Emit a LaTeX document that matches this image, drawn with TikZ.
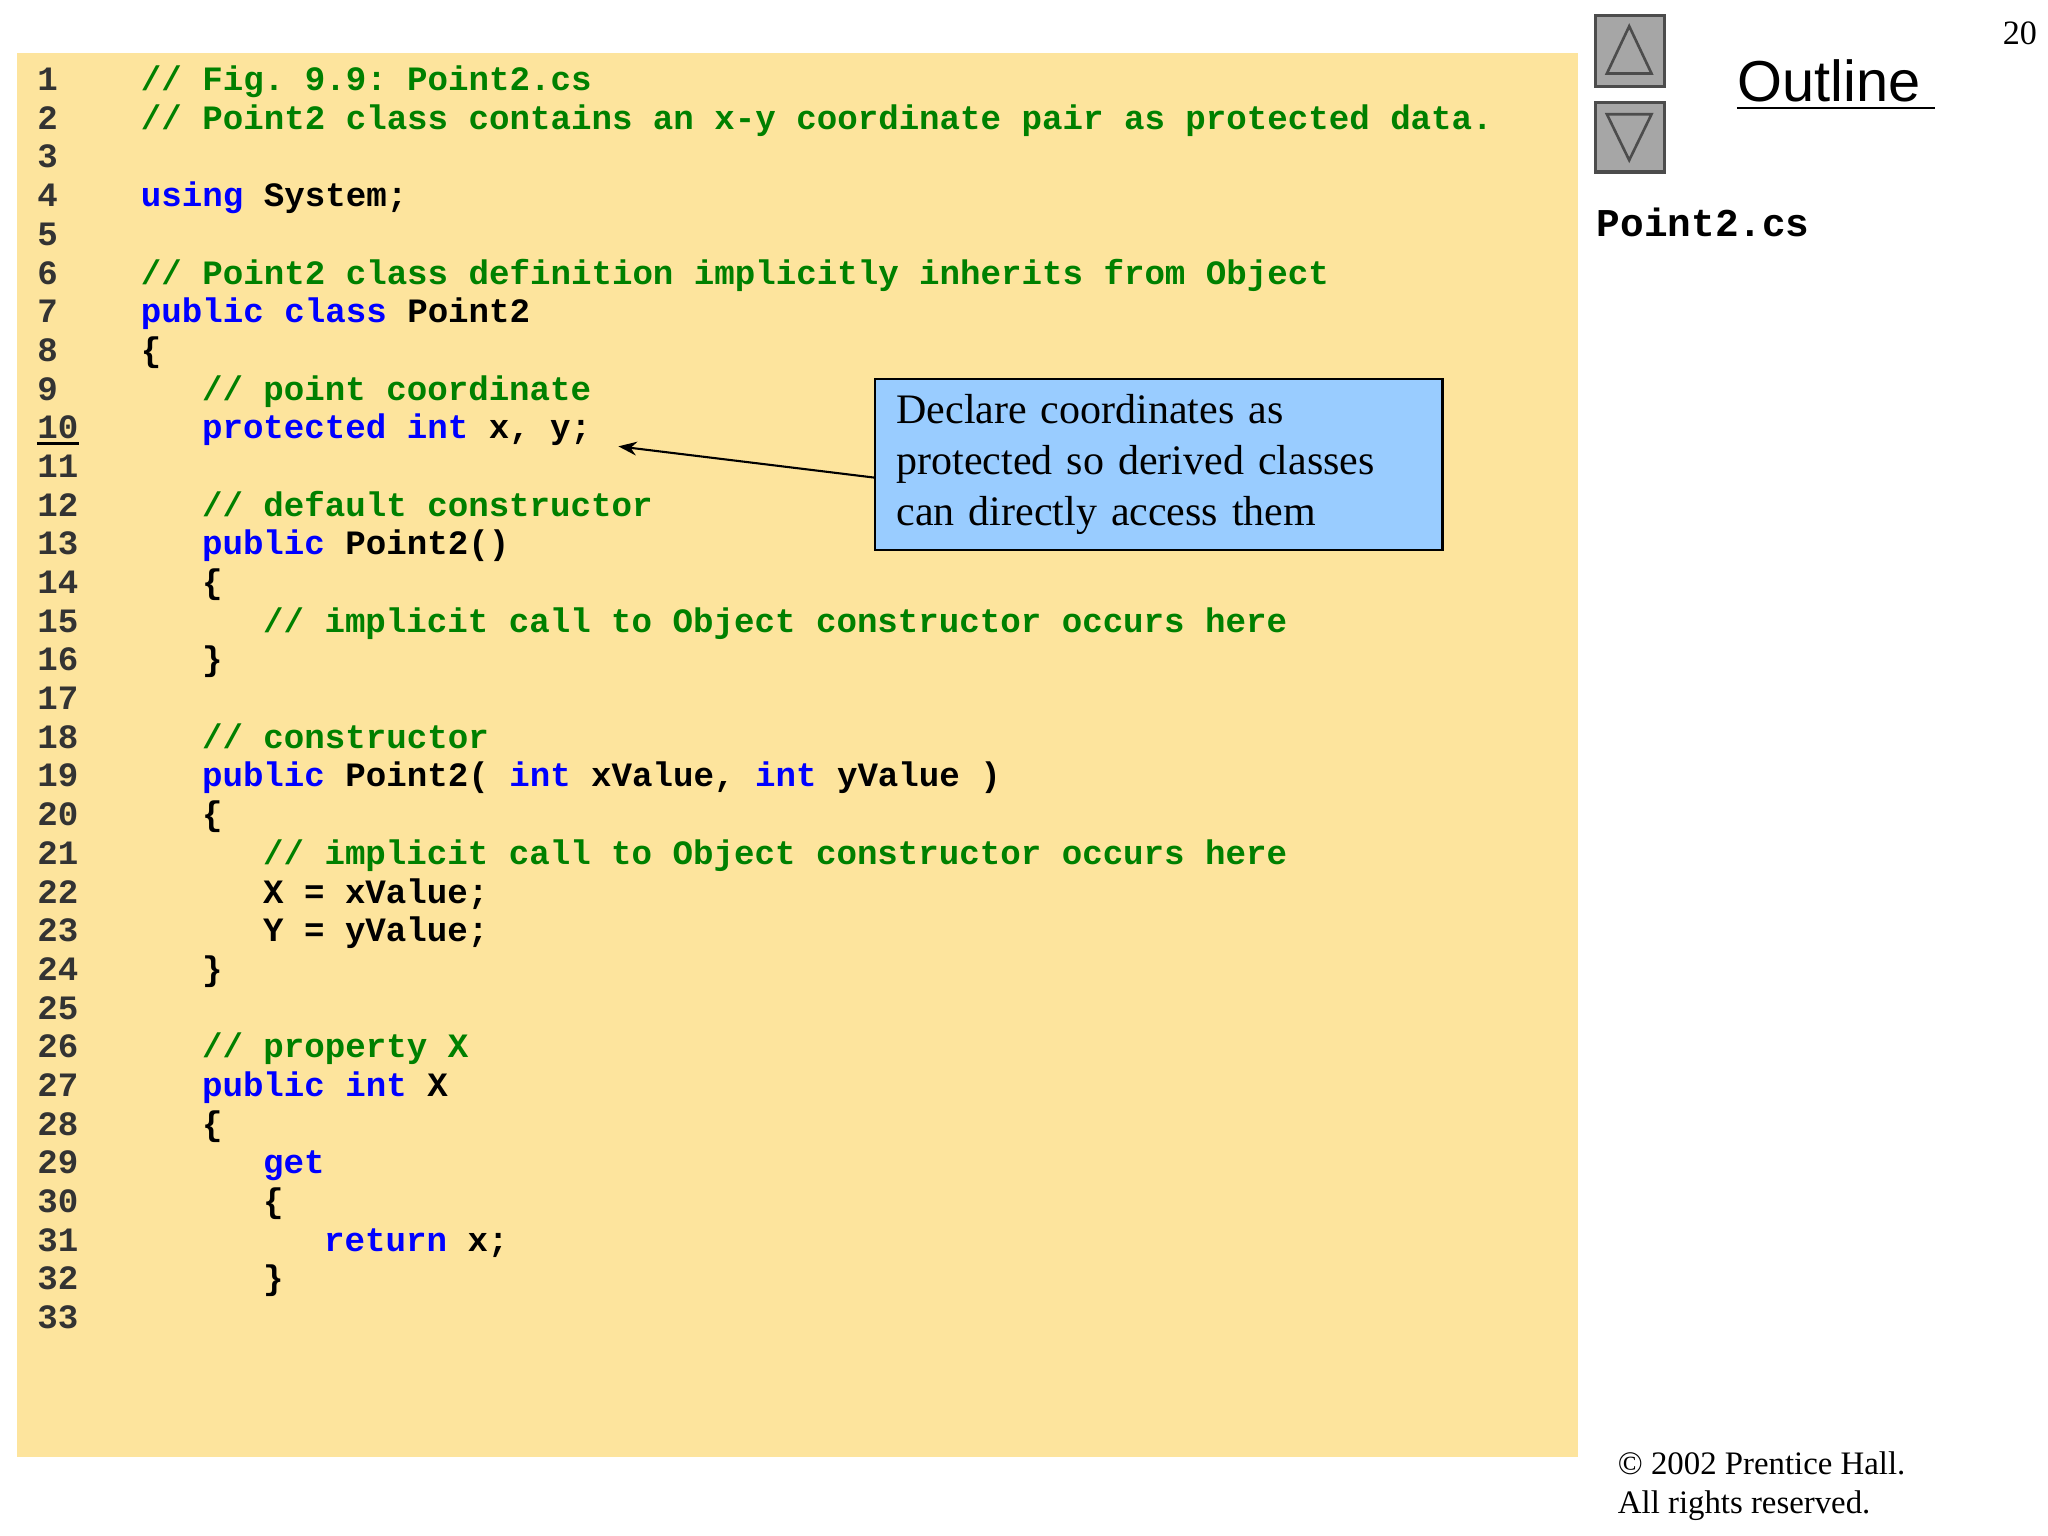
\documentclass[tikz,border=0pt]{standalone}
\usepackage{fontspec}
\usetikzlibrary{arrows.meta}
\setmainfont{Liberation Serif}
\setmonofont{Liberation Mono}
\newfontfamily\outf{Liberation Sans}
\definecolor{bgy}{HTML}{FDE49D}
\definecolor{cg}{HTML}{008000}
\definecolor{cb}{HTML}{0000FF}
\definecolor{callb}{HTML}{99CCFF}
\newcommand{\Cm}[1]{\textcolor{cg}{#1}}
\newcommand{\Kw}[1]{\textcolor{cb}{#1}}
\tikzset{x=0.5pt,y=-0.5pt,
 code/.style={anchor=base west,inner sep=0pt,font=\fontsize{13}{13}\ttfamily\bfseries},
 btn/.style={draw=black!70,fill=black!35,line width=1.2pt}}
\newcommand{\cl}[3]{\node[code] (l#1) at ({107+46.5*#2},{69+29.47*(#1-1)}) {#3};
 \node[code] (n#1) at (28,{69+29.47*(#1-1)}) {\textcolor{black!80}{#1}};}
\begin{document}
\begin{tikzpicture}
\fill[white] (0,0) rectangle (1560,1170);
\fill[bgy] (13,40) rectangle (1202,1110);
\cl{1}{0}{\Cm{// Fig. 9.9: Point2.cs}}
\cl{2}{0}{\Cm{// Point2 class contains an x-y coordinate pair as protected data.}}
\cl{3}{0}{}
\cl{4}{0}{\Kw{using} System;}
\cl{5}{0}{}
\cl{6}{0}{\Cm{// Point2 class definition implicitly inherits from Object}}
\cl{7}{0}{\Kw{public class} Point2}
\cl{8}{0}{\{}
\cl{9}{1}{\Cm{// point coordinate}}
\cl{10}{1}{\Kw{protected int} x, y;}
\cl{11}{0}{}
\cl{12}{1}{\Cm{// default constructor}}
\cl{13}{1}{\Kw{public} Point2()}
\cl{14}{1}{\{}
\cl{15}{2}{\Cm{// implicit call to Object constructor occurs here}}
\cl{16}{1}{\}}
\cl{17}{0}{}
\cl{18}{1}{\Cm{// constructor}}
\cl{19}{1}{\Kw{public} Point2( \Kw{int} xValue, \Kw{int} yValue )}
\cl{20}{1}{\{}
\cl{21}{2}{\Cm{// implicit call to Object constructor occurs here}}
\cl{22}{2}{X = xValue;}
\cl{23}{2}{Y = yValue;}
\cl{24}{1}{\}}
\cl{25}{0}{}
\cl{26}{1}{\Cm{// property X}}
\cl{27}{1}{\Kw{public int} X}
\cl{28}{1}{\{}
\cl{29}{2}{\Kw{get}}
\cl{30}{2}{\{}
\cl{31}{3}{\Kw{return} x;}
\cl{32}{2}{\}}
\cl{33}{0}{}
\draw[line width=1pt] (28,338) -- (60,338);
\node[draw,fill=callb,line width=0.8pt,minimum width=215pt,minimum height=65pt,anchor=north west,
 inner xsep=8pt,align=left,font=\fontsize{16}{19.5}\selectfont,text width=200pt] (call) at (666,288)
 {Declare coordinates as\\protected so derived classes\\can directly access them};
\coordinate (tgt) at (471,340);
\draw[-{Stealth[length=7pt]},line width=0.8pt] ([yshift=-5pt]call.west) -- (tgt);
\draw[btn] (1215,12) rectangle (1268,66);
\draw[black!70,line width=1pt] (1241,20) -- (1258,56) -- (1224,56) -- cycle;
\draw[btn] (1215,78) rectangle (1268,131);
\draw[black!70,line width=1pt] (1224,87) -- (1258,87) -- (1241,122) -- cycle;
\node[anchor=base west,inner sep=0pt,font=\outf\fontsize{22}{22}\selectfont] (out) at (1323,77) {Outline};
\draw[line width=0.8pt] (1323,82) -- (1474,82);
\node[anchor=base west,inner sep=0pt,font=\fontsize{15}{15}\ttfamily\bfseries] (fn) at (1216,180) {Point2.cs};
\node[anchor=base east,inner sep=0pt,font=\fontsize{13}{13}\selectfont] (pg) at (1552,34) {20};
\node[anchor=base west,inner sep=0pt,font=\fontsize{12.5}{12.5}\selectfont,align=left] (cp) at (1232,1123) {\textcopyright{} 2002 Prentice Hall.};
\node[anchor=base west,inner sep=0pt,font=\fontsize{12.5}{12.5}\selectfont,align=left] (cp2) at (1232,1153) {All rights reserved.};
\end{tikzpicture}
\end{document}
